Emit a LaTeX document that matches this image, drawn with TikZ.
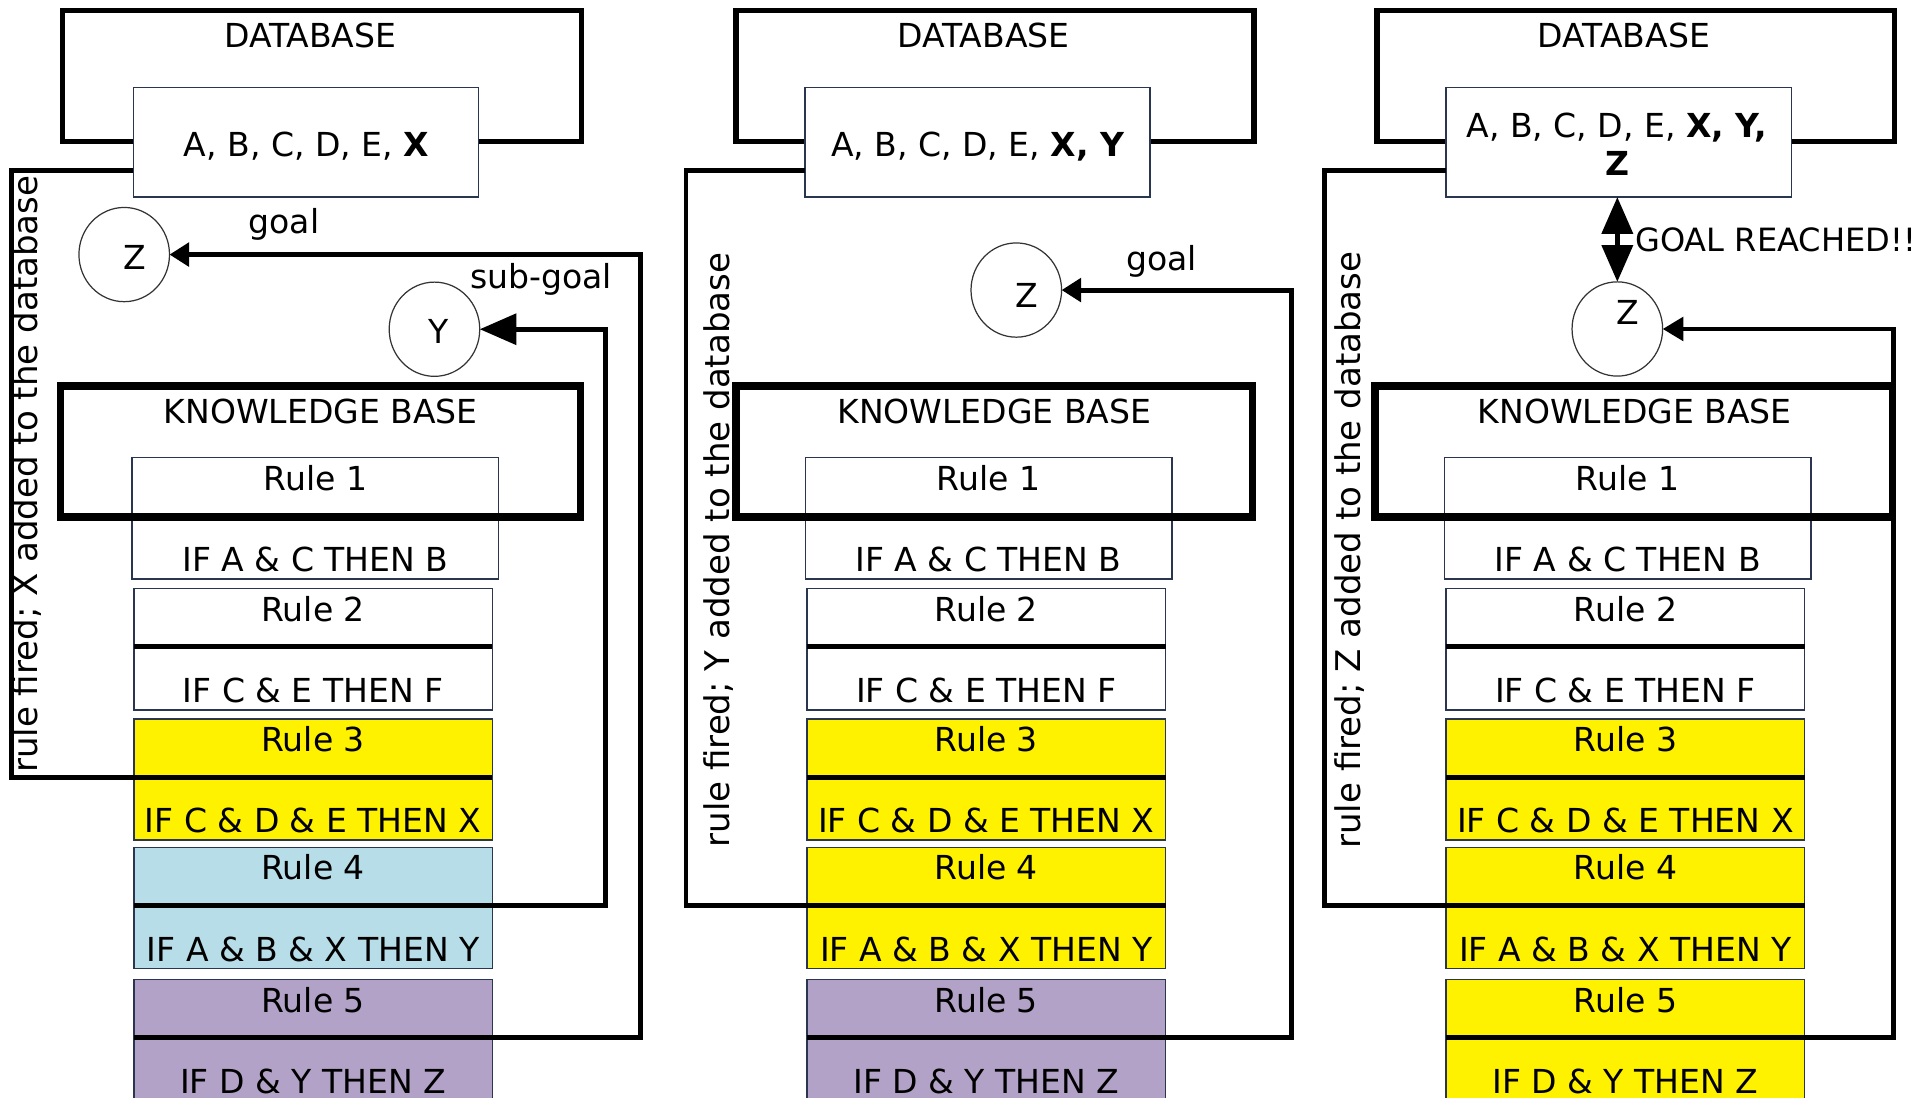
\documentclass[tikz,border=0pt]{standalone}
\usepackage{fontspec}
\setmainfont{DejaVu Sans}
\usetikzlibrary{arrows.meta,calc,shapes.geometric}
\definecolor{rblue}{HTML}{B7DDE8}
\definecolor{rpurp}{HTML}{B2A2C7}
\definecolor{rline}{HTML}{2A3550}
\tikzset{
 txt/.style={inner sep=0pt, font=\fontsize{27}{32}\selectfont},
 vtxt/.style={inner sep=0pt, font=\fontsize{27.8}{32}\selectfont, rotate=90, anchor=base},
 rulebox/.style={draw=rline, line width=1.2pt, minimum height=99pt, inner sep=0pt, outer sep=0pt, anchor=north west},
 sepline/.style={line width=4.2pt},
 conn/.style={line width=4pt},
 dbouter/.style={draw, line width=4.5pt, inner sep=0pt, outer sep=0pt, anchor=north west},
 kbouter/.style={draw, line width=6pt, inner sep=0pt, outer sep=0pt, anchor=north west},
 dbinner/.style={draw=rline, line width=1.2pt, fill=white, inner sep=0pt, outer sep=0pt, anchor=north west},
 circ/.style={ellipse, draw=black!80, line width=1pt, minimum width=74pt, minimum height=77pt, inner sep=0pt, outer sep=0pt},
 tipS/.style={-{Triangle[length=16pt,width=19pt]}},
 tipL/.style={-{Triangle[length=30pt,width=25pt]}},
 tipD/.style={{Triangle[length=30pt,width=25pt]}-{Triangle[length=30pt,width=25pt]}},
}
\newcommand\RuleBox[7]{%
 \node[rulebox, fill=#5, minimum width=#4pt] (#1) at ({#2},#3) {};
 \coordinate (#1s) at ($(#1.north west)+(0,47.5)$);
 \coordinate (#1e) at ($(#1.north east)+(0,47.5)$);
 \node[txt, anchor=base] (#1t) at ($(#1.north)+(0,26.5)$) {#6};
 \node[txt, anchor=base] (#1c) at ($(#1.north)+(0,93)$) {#7};
}
\newcommand\RuleStack[5]{%
 \RuleBox{#1r1}{108+#2}{374}{299.5}{white}{Rule 1}{IF A \& C THEN B}
 \RuleBox{#1r2}{109.4+#2}{481}{293}{white}{Rule 2}{IF C \& E THEN F}
 \RuleBox{#1r3}{109.4+#2}{587.5}{293}{#3}{Rule 3}{IF C \& D \& E THEN X}
 \RuleBox{#1r4}{109.4+#2}{692.5}{293}{#4}{Rule 4}{IF A \& B \& X THEN Y}
 \RuleBox{#1r5}{109.4+#2}{800.5}{293}{#5}{Rule 5}{IF D \& Y THEN Z}
 \foreach \rr in {2,...,5}{\draw[sepline] (#1r\rr s) -- (#1r\rr e);}
}
\begin{document}
\begin{tikzpicture}[x=1pt,y=-1pt]
\useasboundingbox (0,0) rectangle (1568,897);
\fill[white] (0,0) rectangle (1568,897);

% ---------------- Panel 1 ----------------
\node[dbouter, minimum width=424pt, minimum height=107pt] (p1dbo) at (51,8.5) {};
\node[txt, anchor=base] (p1dbl) at (253.5,39) {DATABASE};
\node[dbinner, minimum width=282pt, minimum height=89.5pt] (p1db) at (109,71.5) {};
\node[txt, anchor=base] (p1dbt) at (250.5,128) {A, B, C, D, E, \textbf{X}};
\coordinate (p1dbin) at ($(p1db.south west)+(0,-21.5)$);
\RuleStack{p1}{0}{yellow}{rblue}{rpurp}
\node[kbouter, minimum width=425pt, minimum height=107pt] (p1kb) at (49.5,315.5) {};
\node[txt, anchor=base] (p1kbl) at (262,346) {KNOWLEDGE BASE};
\node[circ] (p1z) at (101.5,208) {};
\node[txt, anchor=base] (p1zl) at (110,220.3) {Z};
\node[circ] (p1y) at (355,269) {};
\node[txt, anchor=base] (p1yl) at (358.5,280.7) {Y};
\node[txt, anchor=base] (p1goal) at (232,191) {goal};
\node[txt, anchor=base] (p1sub) at (442,236) {sub-goal};
\coordinate (p1fx) at (9.5,0);
\coordinate (p1gx) at (523,0);
\coordinate (p1sx) at (494.6,0);
\draw[conn] (p1r3e) -- (p1r3e -| p1fx) |- (p1dbin);
\draw[conn, tipS] (p1r5s) -- (p1r5s -| p1gx) |- (p1z.east);
\draw[conn, tipL] (p1r4s) -- (p1r4s -| p1sx) |- (p1y.east);
\node[vtxt] (p1v) at (31,387.5) {rule fired; X added to the database};

% ---------------- Panel 2 ----------------
\node[dbouter, minimum width=423.2pt, minimum height=107pt] (p2dbo) at (601.5,8.5) {};
\node[txt, anchor=base] (p2dbl) at (803.5,39) {DATABASE};
\node[dbinner, minimum width=282pt, minimum height=89.5pt] (p2db) at (657.8,71.5) {};
\node[txt, anchor=base] (p2dbt) at (799,128) {A, B, C, D, E, \textbf{X, Y}};
\coordinate (p2dbin) at ($(p2db.south west)+(0,-21.5)$);
\RuleStack{p2}{550}{yellow}{yellow}{rpurp}
\node[kbouter, minimum width=422pt, minimum height=107pt] (p2kb) at (601.5,315.5) {};
\node[txt, anchor=base] (p2kbl) at (812.5,346) {KNOWLEDGE BASE};
\node[circ] (p2z) at (830.4,237) {};
\node[txt, anchor=base] (p2zl) at (839,251) {Z};
\node[txt, anchor=base] (p2goal) at (949,221) {goal};
\coordinate (p2fx) at (560.5,0);
\coordinate (p2gx) at (1055,0);
\draw[conn] (p2r4e) -- (p2r4e -| p2fx) |- (p2dbin);
\draw[conn, tipS] (p2r5s) -- (p2r5s -| p2gx) |- (p2z.east);
\node[vtxt] (p2v) at (596,449.5) {rule fired; Y added to the database};

% ---------------- Panel 3 ----------------
\node[dbouter, minimum width=423pt, minimum height=107pt] (p3dbo) at (1125,8.5) {};
\node[txt, anchor=base] (p3dbl) at (1326.8,39) {DATABASE};
\node[dbinner, minimum width=282.2pt, minimum height=89.5pt] (p3db) at (1181.6,71.5) {};
\node[txt, anchor=base] (p3dbt) at (1321,112.3) {A, B, C, D, E, \textbf{X, Y,}};
\node[txt, anchor=base] (p3dbt2) at (1322,143) {\textbf{Z}};
\coordinate (p3dbin) at ($(p3db.south west)+(0,-21.5)$);
\RuleStack{p3}{1072.2}{yellow}{yellow}{yellow}
\node[kbouter, minimum width=422.8pt, minimum height=107pt] (p3kb) at (1123.4,315.5) {};
\node[txt, anchor=base] (p3kbl) at (1335.6,346) {KNOWLEDGE BASE};
\node[circ] (p3z) at (1321.5,268.8) {};
\node[txt, anchor=base] (p3zl) at (1330,265.5) {Z};
\coordinate (p3fx) at (1082,0);
\coordinate (p3gx) at (1547,0);
\draw[conn] (p3r4e) -- (p3r4e -| p3fx) |- (p3dbin);
\draw[conn, -{Triangle[length=17pt,width=19pt]}] (p3r5s) -- (p3r5s -| p3gx) |- (p3z.east);
\draw[conn, tipD] (p3z.north |- p3db.south) -- (p3z.north);
\node[txt, anchor=base west, font=\fontsize{26.2}{30}\selectfont] (p3gr) at (1336,205.7) {GOAL REACHED!!};
\node[vtxt] (p3v) at (1112,449.5) {rule fired; Z added to the database};
\end{tikzpicture}
\end{document}
